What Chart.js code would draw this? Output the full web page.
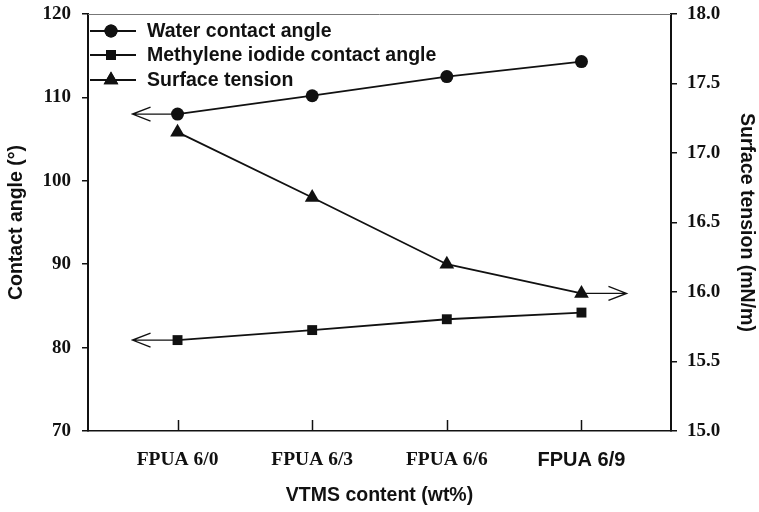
<!DOCTYPE html>
<html>
<head>
<meta charset="utf-8">
<title>Contact angle and surface tension vs VTMS content</title>
<script src="https://cdn.jsdelivr.net/npm/chart.js@4/dist/chart.umd.min.js"></script>
<style>
  html, body { margin: 0; padding: 0; background: #ffffff; }
  #wrap { width: 759px; height: 512px; }
</style>
</head>
<body>
<div id="wrap"><canvas id="chart" width="759" height="512"></canvas></div>
<script>
// Samples along the x axis
const categories = ['FPUA 6/0', 'FPUA 6/3', 'FPUA 6/6', 'FPUA 6/9'];
// Contact angles (degrees), left axis
const waterAngle = [108.0, 110.2, 112.5, 114.3];
const methyleneAngle = [80.9, 82.1, 83.4, 84.2];
// Surface tension (mN/m), right axis
const surfaceTension = [17.15, 16.68, 16.20, 15.99];
// Axis tick values
const angleTicks = [70, 80, 90, 100, 110, 120];
const tensionTicks = [15.0, 15.5, 16.0, 16.5, 17.0, 17.5, 18.0];

const seriesNames = ['Water contact angle', 'Methylene iodide contact angle', 'Surface tension'];

const INK = '#111111';
const SANS = '"Liberation Sans", Arial, sans-serif';
const serifBold = { family: '"Liberation Serif", "Times New Roman", serif', size: 19, weight: 'bold' };
const sansBold = { family: SANS, size: 19.5, weight: 'bold' };

const toPoints = arr => arr.map((v, i) => ({ x: i, y: v }));

// keep the plot frame where the layout padding puts it
const noEdgePadding = s => { s.width = 88; s.paddingTop = 0; s.paddingBottom = 0; };

// Inward tick marks on the x axis, the grey top border, open arrows and the legend
const decorations = {
  id: 'decorations',
  afterDatasetsDraw(chart) {
    const { ctx, chartArea: area, scales } = chart;
    const x = scales.x, yL = scales.yAngle, yR = scales.yTension;
    ctx.save();

    // top frame line
    ctx.strokeStyle = '#777777';
    ctx.lineWidth = 1;
    ctx.beginPath();
    ctx.moveTo(area.left, area.top + 0.5);
    ctx.lineTo(area.right, area.top + 0.5);
    ctx.stroke();

    // category ticks pointing into the plot
    ctx.strokeStyle = INK;
    ctx.lineWidth = 1.5;
    categories.forEach((c, i) => {
      const px = Math.round(x.getPixelForValue(i)) + 0.5;
      ctx.beginPath();
      ctx.moveTo(px, area.bottom);
      ctx.lineTo(px, area.bottom - 11);
      ctx.stroke();
    });

    // open arrows pointing to the axis each series is read against
    const arrow = (sx, sy, dir) => {
      const len = 45, head = 18, spread = 7;
      const tx = sx + dir * len;
      ctx.beginPath();
      ctx.moveTo(sx, sy);
      ctx.lineTo(tx, sy);
      ctx.moveTo(tx - dir * head, sy - spread);
      ctx.lineTo(tx, sy);
      ctx.lineTo(tx - dir * head, sy + spread);
      ctx.stroke();
    };
    ctx.lineWidth = 1.4;
    arrow(x.getPixelForValue(0), yL.getPixelForValue(waterAngle[0]), -1);
    arrow(x.getPixelForValue(0), yL.getPixelForValue(methyleneAngle[0]), -1);
    const last = surfaceTension.length - 1;
    arrow(x.getPixelForValue(last), yR.getPixelForValue(surfaceTension[last]), 1);

    // legend
    const rows = [31, 55, 80];
    chart.data.datasets.forEach((ds, i) => {
      const ly = rows[i];
      ctx.strokeStyle = INK;
      ctx.lineWidth = 1.8;
      ctx.beginPath();
      ctx.moveTo(area.left + 2, ly);
      ctx.lineTo(area.left + 48, ly);
      ctx.stroke();
      Chart.helpers.drawPoint(ctx, {
        pointStyle: ds.pointStyle,
        radius: ds.pointRadius,
        rotation: 0,
        borderWidth: 0
      }, area.left + 23, ly);
      ctx.fillStyle = INK;
      ctx.fill();
      ctx.font = 'bold 19.5px ' + SANS;
      ctx.textBaseline = 'middle';
      ctx.textAlign = 'left';
      ctx.fillText(ds.label, area.left + 59, ly + 1);
    });
    ctx.restore();
  }
};

const common = {
  borderColor: INK,
  backgroundColor: INK,
  pointBackgroundColor: INK,
  pointBorderColor: INK,
  pointBorderWidth: 0,
  borderWidth: 1.8,
  tension: 0,
  fill: false
};

new Chart(document.getElementById('chart'), {
  type: 'line',
  data: {
    datasets: [
      Object.assign({}, common, { label: seriesNames[0], data: toPoints(waterAngle), yAxisID: 'yAngle', pointStyle: 'circle', pointRadius: 6.5 }),
      Object.assign({}, common, { label: seriesNames[1], data: toPoints(methyleneAngle), yAxisID: 'yAngle', pointStyle: 'rect', pointRadius: 7 }),
      Object.assign({}, common, { label: seriesNames[2], data: toPoints(surfaceTension), yAxisID: 'yTension', pointStyle: 'triangle', pointRadius: 8.5 })
    ]
  },
  options: {
    responsive: false,
    animation: false,
    devicePixelRatio: 1,
    layout: { padding: { top: 14, bottom: 0, left: 0, right: 0 } },
    plugins: { legend: { display: false }, tooltip: { enabled: false } },
    scales: {
      x: {
        type: 'linear',
        min: -0.665,
        max: 3.665,
        afterBuildTicks: s => { s.ticks = categories.map((c, i) => ({ value: i })); },
        afterFit: s => { s.height = 81; s.paddingLeft = 0; s.paddingRight = 0; },
        grid: { display: true, drawOnChartArea: false, drawTicks: false },
        border: { display: true, color: INK, width: 1.5 },
        ticks: {
          padding: 17,
          color: INK,
          font: ctx => (ctx.index === 3 ? { family: SANS, size: 20, weight: 'bold' } : Object.assign({}, serifBold, { size: 19.5 })),
          callback: v => categories[v]
        },
        title: { display: true, text: 'VTMS content (wt%)', color: INK, font: sansBold, padding: { top: 0, bottom: 5 } }
      },
      yAngle: {
        type: 'linear',
        position: 'left',
        min: 70,
        max: 120,
        afterBuildTicks: s => { s.ticks = angleTicks.map(v => ({ value: v })); },
        afterFit: noEdgePadding,
        grid: { drawOnChartArea: false, drawTicks: true, tickLength: 6, color: INK, lineWidth: 1.5 },
        border: { display: true, color: INK, width: 2 },
        ticks: { padding: 11, color: INK, font: serifBold, callback: v => String(v) },
        title: { display: true, text: 'Contact angle (°)', color: INK, font: sansBold, padding: { top: 5, bottom: 0 } }
      },
      yTension: {
        type: 'linear',
        position: 'right',
        min: 15,
        max: 18,
        afterBuildTicks: s => { s.ticks = tensionTicks.map(v => ({ value: v })); },
        afterFit: noEdgePadding,
        grid: { drawOnChartArea: false, drawTicks: true, tickLength: 6, color: INK, lineWidth: 1.5 },
        border: { display: true, color: INK, width: 2 },
        ticks: { padding: 10, color: INK, font: serifBold, callback: v => v.toFixed(1) },
        title: { display: true, text: 'Surface tension (mN/m)', color: INK, font: sansBold, padding: { top: 1, bottom: 0 } }
      }
    }
  },
  plugins: [decorations]
});
</script>
</body>
</html>
